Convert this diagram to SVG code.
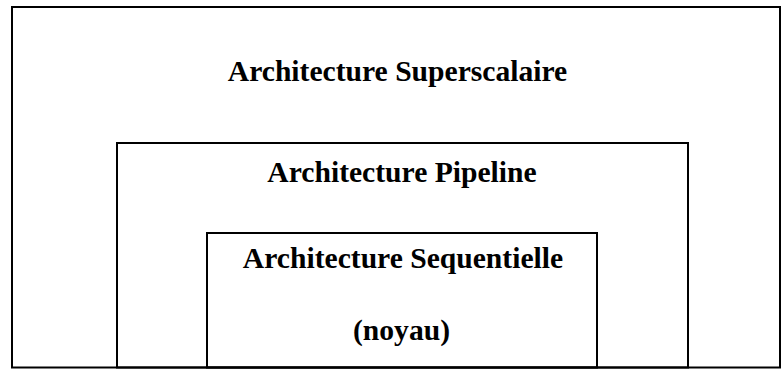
<svg xmlns="http://www.w3.org/2000/svg" width="781" height="369" viewBox="0 0 781 369">
  <style>
    .box { fill: none; stroke: #000; stroke-width: 2; }
    .lbl { font-family: "Liberation Serif", "Times New Roman", serif; font-weight: bold; font-size: 29.6px; fill: #000; text-anchor: middle; }
  </style>
  <rect x="0" y="0" width="781" height="369" fill="#fff"/>
  <!-- outermost layer -->
  <g id="superscalaire">
    <rect class="box" x="12" y="7" width="768" height="360.5"/>
    <text class="lbl" x="397.5" y="81">Architecture Superscalaire</text>
  </g>
  <!-- middle layer -->
  <g id="pipeline">
    <rect class="box" x="117" y="143" width="571" height="224.5"/>
    <text class="lbl" x="402" y="182">Architecture Pipeline</text>
  </g>
  <!-- core -->
  <g id="sequentielle">
    <rect class="box" x="207" y="233" width="390" height="134.5"/>
    <text class="lbl" x="403" y="268">Architecture Sequentielle</text>
    <text class="lbl" x="401.5" y="340">(noyau)</text>
  </g>
</svg>
